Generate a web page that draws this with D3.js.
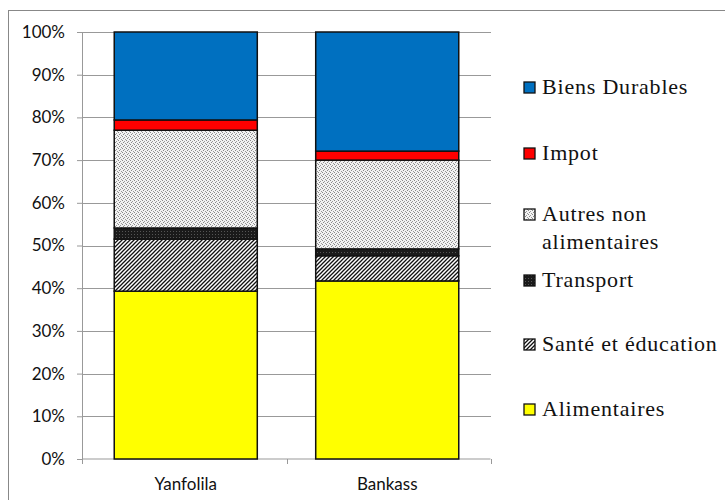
<!DOCTYPE html>
<html>
<head>
<meta charset="utf-8">
<script src="https://cdn.jsdelivr.net/npm/d3@7"></script>
<style>
  body { margin: 0; background: #fff; }
</style>
</head>
<body>
<svg id="chart" width="725" height="500"></svg>
<script>
// categories (x axis)
var regions = ['Yanfolila', 'Bankass'];
// series, bottom to top
var series = ['Alimentaires', 'Santé et éducation', 'Transport', 'Autres non alimentaires', 'Impot', 'Biens Durables'];
// shares in %, one array per region, same order as series
var yanfolila = [39.3, 12.2, 2.6, 22.9, 2.4, 20.6];
var bankass = [41.7, 5.9, 1.6, 20.8, 2.1, 27.9];
var yTicks = [0, 10, 20, 30, 40, 50, 60, 70, 80, 90, 100];

var svg = d3.select('#chart');
var margin = {top: 32, left: 82, bottom: 41, right: 234};
var w = 725 - margin.left - margin.right;
var h = 500 - margin.top - margin.bottom;
var axisFont = 'Lato, "Liberation Sans", sans-serif';
var legendFont = 'Liberation Serif, serif';

//patterns for the hatched series
var defs = svg.append('defs');
var p1 = defs.append('pattern').attr('id', 'sante').attr('patternUnits', 'userSpaceOnUse')
    .attr('width', 4).attr('height', 4);
p1.append('rect').attr('width', 4).attr('height', 4).attr('fill', '#fff');
p1.append('path').attr('d', 'M-1,1 L1,-1 M0,4 L4,0 M3,5 L5,3').attr('stroke', '#111').attr('stroke-width', 1.3);

var p2 = defs.append('pattern').attr('id', 'autres').attr('patternUnits', 'userSpaceOnUse')
    .attr('width', 4).attr('height', 4);
p2.append('rect').attr('width', 4).attr('height', 4).attr('fill', '#f2f2f2');
p2.append('rect').attr('x', 0).attr('y', 0).attr('width', 1).attr('height', 1).attr('fill', '#888');
p2.append('rect').attr('x', 2).attr('y', 1).attr('width', 1).attr('height', 1).attr('fill', '#999');
p2.append('rect').attr('x', 1).attr('y', 2).attr('width', 1).attr('height', 1).attr('fill', '#888');
p2.append('rect').attr('x', 3).attr('y', 3).attr('width', 1).attr('height', 1).attr('fill', '#999');

var p3 = defs.append('pattern').attr('id', 'transport').attr('patternUnits', 'userSpaceOnUse')
    .attr('width', 3).attr('height', 3);
p3.append('rect').attr('width', 3).attr('height', 3).attr('fill', '#1a1a1a');
p3.append('rect').attr('x', 1).attr('y', 1).attr('width', 1).attr('height', 1).attr('fill', '#555');

var fills = ['#ffff00', 'url(#sante)', 'url(#transport)', 'url(#autres)', '#ff0000', '#0070c0'];
var color = d3.scaleOrdinal().domain(series).range(fills);

//outer frame
svg.append('rect').attr('x', 8.5).attr('y', 10.5).attr('width', 730).attr('height', 500)
    .attr('fill', 'none').attr('stroke', '#888');

var g = svg.append('g').attr('transform', 'translate(' + margin.left + ',' + margin.top + ')');

var x = d3.scaleBand().domain(regions).range([0, w]).paddingInner(0.29).paddingOuter(0.16);
var y = d3.scaleLinear().domain([0, 100]).range([h, 0]);

//gridlines
g.append('g').selectAll('line').data(yTicks.slice(1)).enter().append('line')
    .attr('x1', 0).attr('x2', w)
    .attr('y1', function(d){ return Math.round(y(d)) + 0.5; })
    .attr('y2', function(d){ return Math.round(y(d)) + 0.5; })
    .attr('stroke', '#999').attr('stroke-width', 1.2);

//y axis
var yAxis = g.append('g').call(d3.axisLeft(y).tickValues(yTicks)
    .tickFormat(function(d){ return d + '%'; }).tickSize(5).tickPadding(12));
yAxis.select('.domain').attr('stroke', '#999');
yAxis.selectAll('.tick line').attr('stroke', '#999');
yAxis.selectAll('text').attr('font-family', axisFont).attr('font-size', 17).attr('fill', '#111');

//x axis with ticks between the categories
var xAxis = g.append('g').attr('transform', 'translate(0,' + h + ')')
    .call(d3.axisBottom(x).tickSize(0).tickPadding(19));
xAxis.select('.domain').attr('stroke', '#999').attr('d', 'M0.5,0V0H' + (w - 0.5) + 'V0');
xAxis.selectAll('.tick line').remove();
xAxis.selectAll('text').attr('font-family', axisFont).attr('font-size', 17).attr('fill', '#111');
g.append('g').selectAll('line').data([0, w / 2, w]).enter().append('line')
    .attr('x1', function(d){ return Math.round(d) + 0.5; })
    .attr('x2', function(d){ return Math.round(d) + 0.5; })
    .attr('y1', h).attr('y2', h + 5).attr('stroke', '#999');

//stacked data
var rows = regions.map(function(r, i){
    var vals = i == 0 ? yanfolila : bankass;
    var o = {region: r};
    series.forEach(function(s, j){ o[s] = vals[j]; });
    return o;
});
var stacked = d3.stack().keys(series)(rows);

var layers = g.append('g').selectAll('g').data(stacked).enter().append('g')
    .attr('fill', function(d){ return color(d.key); });
layers.selectAll('rect').data(function(d){ return d; }).enter().append('rect')
    .attr('x', function(d){ return x(d.data.region); })
    .attr('width', x.bandwidth())
    .attr('y', function(d){ return y(Math.min(100, d[1])); })
    .attr('height', function(d){ return y(d[0]) - y(Math.min(100, d[1])); })
    .attr('stroke', '#111').attr('stroke-width', 1.5);

//legend, top item first
var legendY = [87, 153, 214, 280, 344, 409];
var legend = svg.append('g').classed('legend', true);
var items = legend.selectAll('g').data(series.slice().reverse()).enter().append('g')
    .attr('transform', function(d, i){ return 'translate(524,' + legendY[i] + ')'; });
items.append('rect').attr('x', 0).attr('y', -5).attr('width', 11).attr('height', 11)
    .attr('fill', function(d){ return color(d); }).attr('stroke', '#111').attr('stroke-width', 1.3);
items.append('text').attr('x', 18).attr('y', 7)
    .attr('font-family', legendFont).attr('font-size', 22).attr('letter-spacing', 0.8)
    .attr('fill', '#111')
    .each(function(d){
        var t = d3.select(this);
        if (d == 'Autres non alimentaires') {
            t.append('tspan').attr('x', 18).text('Autres non');
            t.append('tspan').attr('x', 18).attr('dy', 28).text('alimentaires');
        } else {
            t.text(d);
        }
    });
</script>
</body>
</html>
